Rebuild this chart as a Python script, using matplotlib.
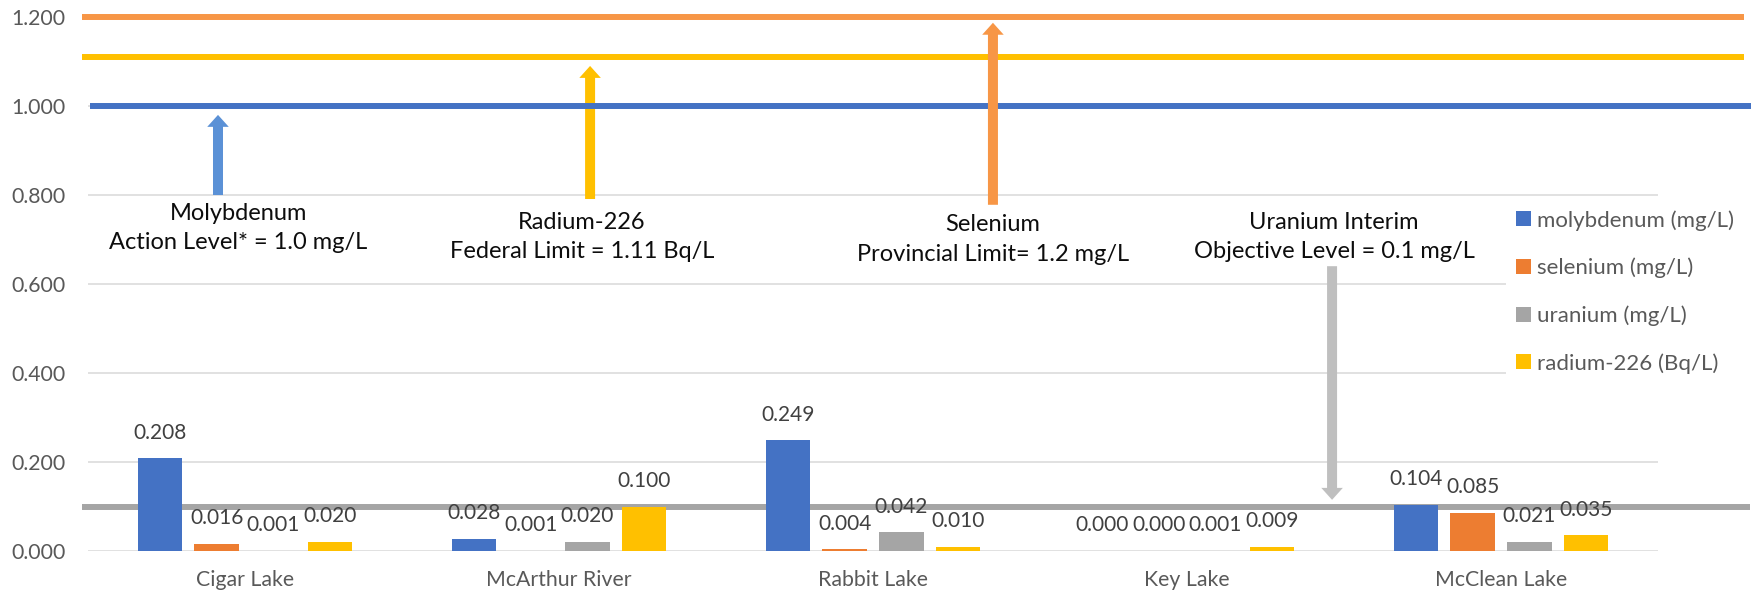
import matplotlib
matplotlib.use('Agg')
import matplotlib.pyplot as plt
import numpy as np
from matplotlib.patches import FancyArrowPatch, ArrowStyle
from matplotlib.transforms import blended_transform_factory

# ---------------- data ----------------
categories = ["Cigar Lake", "McArthur River", "Rabbit Lake", "Key Lake", "McClean Lake"]
series_names = ["molybdenum (mg/L)", "selenium (mg/L)", "uranium (mg/L)", "radium-226 (Bq/L)"]
molybdenum = [0.208, 0.028, 0.249, 0.000, 0.104]
selenium = [0.016, 0.001, 0.004, 0.000, 0.085]
uranium = [0.001, 0.020, 0.042, 0.001, 0.021]
radium = [0.020, 0.100, 0.010, 0.009, 0.035]
y_ticks = [0.0, 0.2, 0.4, 0.6, 0.8, 1.0, 1.2]

# limit lines: selenium, radium-226, molybdenum, uranium
limit_values = [1.2, 1.11, 1.0, 0.1]
limit_texts = ["Selenium\nProvincial Limit= 1.2 mg/L",
               "Radium-226\nFederal Limit = 1.11 Bq/L",
               "Molybdenum\nAction Level* = 1.0 mg/L",
               "Uranium Interim\nObjective Level = 0.1 mg/L"]

# ---------------- style ----------------
bar_colors = ["#4472C4", "#ED7D31", "#A5A5A5", "#FFC000"]
limit_colors = ["#F79646", "#FFC000", "#4472C4", "#A5A5A5"]
arrow_colors = ["#F79646", "#FFC000", "#5B91D6", "#BFBFBF"]
FONT = "Lato"
plt.rcParams['font.family'] = [FONT, 'DejaVu Sans']

W, H = 1758, 595
fig = plt.figure(figsize=(W / 100, H / 100), dpi=100)
ax_left, ax_right = 88, 1658
ax_top, ax_bot = 17, 551
ax = fig.add_axes([ax_left / W, 1 - ax_bot / H, (ax_right - ax_left) / W, (ax_bot - ax_top) / H])

n = len(categories)
x = np.arange(n)
ax.set_xlim(-0.5, n - 0.5)
ax.set_ylim(0, 1.2)

series = [molybdenum, selenium, uranium, radium]
step = 0.1805
bw = 0.1417
for i, (vals, col, name) in enumerate(zip(series, bar_colors, series_names)):
    xs = x + (i - 1.5) * step
    ax.bar(xs, vals, width=bw, color=col, label=name, zorder=3)
    for xi, v in zip(xs, vals):
        ax.annotate(f"{v:.3f}", (xi, v), xytext=(0, 18.5), textcoords='offset points',
                    ha='center', va='center', fontsize=15, color='#404040', zorder=6)

# gridlines
for t in y_ticks:
    ax.axhline(t, color='#D9D9D9', lw=1.1, zorder=0)

ax.set_yticks(y_ticks)
ax.set_yticklabels([f"{t:.3f}" for t in y_ticks])
ax.set_xticks(x)
ax.set_xticklabels(categories)
ax.tick_params(axis='y', length=0, pad=16, labelsize=15.3, labelcolor='#595959')
ax.tick_params(axis='x', length=0, pad=14, labelsize=15.3, labelcolor='#595959')
for s in ax.spines.values():
    s.set_visible(False)

# limit lines (extend beyond plot area)
tr = blended_transform_factory(ax.transAxes, ax.transData)
line_extent = [(-0.004, 1.0548), (-0.004, 1.0548), (0.0013, 1.0595), (-0.004, 1.0585)]
line_z = [2.5, 2.5, 2.6, 2]
for v, c, (a, b), z in zip(limit_values, limit_colors, line_extent, line_z):
    ax.plot([a, b], [v, v], transform=tr, color=c, lw=4.3, clip_on=False,
            solid_capstyle='butt', zorder=z)

# arrows and annotation texts (category units / data values)
arrow_x = [2.382, 1.099, -0.086, 3.462]
arrow_tail = [0.778, 0.791, 0.800, 0.640]
arrow_tip = [1.187, 1.090, 0.980, 0.115]
arrow_z = [2.7, 2.4, 2.4, 2.4]
text_x = [2.382, 1.073, -0.022, 3.468]
text_y = [0.700, 0.706, 0.726, 0.706]

style = ArrowStyle.Simple(head_length=8.6, head_width=15.5, tail_width=7.2)
for ax_, t0, t1, c, z in zip(arrow_x, arrow_tail, arrow_tip, arrow_colors, arrow_z):
    p = FancyArrowPatch((ax_, t0), (ax_, t1), arrowstyle=style, mutation_scale=1,
                        color=c, shrinkA=0, shrinkB=0, zorder=z, lw=0, clip_on=False)
    ax.add_patch(p)
for tx, ty, txt in zip(text_x, text_y, limit_texts):
    ax.text(tx, ty, txt, ha='center', va='center', fontsize=17, color='#0D0D0D',
            linespacing=1.5, zorder=5)

# legend
leg = ax.legend(loc='upper left', bbox_to_anchor=(1506 / W, 1 - 200 / H),
                bbox_transform=fig.transFigure, frameon=True, facecolor='white',
                edgecolor='none', framealpha=1, fontsize=16, borderaxespad=0,
                borderpad=0.45, labelspacing=1.22, handlelength=0.66, handleheight=0.66,
                handletextpad=0.3)
leg.set_zorder(10)
for t in leg.get_texts():
    t.set_color('#595959')

fig.savefig("out.png", dpi=100, facecolor='white')
